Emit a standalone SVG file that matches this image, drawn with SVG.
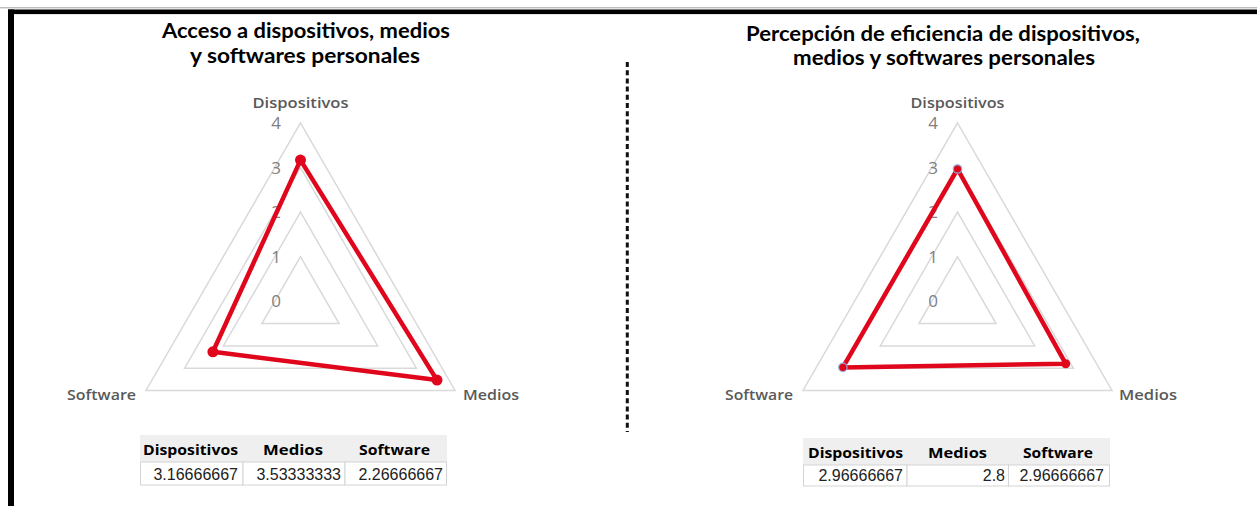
<svg xmlns="http://www.w3.org/2000/svg" xmlns:xlink="http://www.w3.org/1999/xlink" width="1257" height="506" viewBox="0 0 1257 506">
<style>
.title{font-family:Lato,"Open Sans","Liberation Sans",sans-serif;font-weight:700;font-size:20px;fill:#000;text-anchor:middle}
.axis{font-family:"Open Sans","Liberation Sans",sans-serif;font-weight:600;font-size:15px;fill:#595959}
.tick{font-family:"Open Sans","Liberation Sans",sans-serif;font-size:17px;fill:#808080;text-anchor:middle}
.grid{fill:none;stroke:#d9d9d9;stroke-width:1.5}
.series{fill:none;stroke:#e0061c;stroke-width:4.5;stroke-linejoin:round}
.dot{fill:#e0061c}
.dot2{fill:#e0061c;stroke:#8eaadb;stroke-width:1.2}
.th{font-family:"Open Sans","Liberation Sans",sans-serif;font-weight:700;font-size:15px;fill:#000}
.td{font-family:"Liberation Sans",Arial,sans-serif;font-size:16px;fill:#222;text-anchor:end}
.hdr{fill:#efefef}
.cell{fill:#fff;stroke:#d4d4d4;stroke-width:1}
</style>
<defs>
<g id="gridTri">
<polygon class="grid" points="0,-178.4 -154.5,89.2 154.5,89.2"/>
<polygon class="grid" points="0,-133.8 -115.9,66.9 115.9,66.9"/>
<polygon class="grid" points="0,-89.2 -77.2,44.6 77.2,44.6"/>
<polygon class="grid" points="0,-44.6 -38.6,22.3 38.6,22.3"/>
</g>
<g id="ticks">
<text class="tick" x="-24.5" y="-172.3">4</text>
<text class="tick" x="-24.5" y="-127.7">3</text>
<text class="tick" x="-24.5" y="-83.1">2</text>
<text class="tick" x="-24.5" y="-38.5">1</text>
<text class="tick" x="-24.5" y="6.1">0</text>
</g>
</defs>
<rect width="1257" height="506" fill="#fff"/>
<line x1="0" y1="7.8" x2="1257" y2="7.8" stroke="#a0a0a0" stroke-width="1"/>
<rect x="8" y="9.5" width="1249" height="4.6" fill="#000"/>
<rect x="8" y="9.5" width="6" height="496.5" fill="#000"/>

<g id="chart-left">
<text class="title" x="306" y="38" textLength="288" lengthAdjust="spacingAndGlyphs">Acceso a dispositivos, medios</text>
<text class="title" x="305" y="62.5" textLength="230" lengthAdjust="spacingAndGlyphs">y softwares personales</text>
<use xlink:href="#gridTri" x="300.5" y="301.3"/>
<use xlink:href="#ticks" x="300.5" y="301.3"/>
<text class="axis" x="300.5" y="108" text-anchor="middle" textLength="96" lengthAdjust="spacingAndGlyphs">Dispositivos</text>
<text class="axis" x="67" y="400" textLength="69" lengthAdjust="spacingAndGlyphs">Software</text>
<text class="axis" x="463" y="400" textLength="56" lengthAdjust="spacingAndGlyphs">Medios</text>
</g>

<g id="chart-right">
<text class="title" x="943" y="40.5" textLength="394" lengthAdjust="spacingAndGlyphs">Percepción de eficiencia de dispositivos,</text>
<text class="title" x="944" y="65" textLength="302" lengthAdjust="spacingAndGlyphs">medios  y softwares personales</text>
<use xlink:href="#gridTri" x="957.5" y="301.3"/>
<use xlink:href="#ticks" x="957.5" y="301.3"/>
<text class="axis" x="957.5" y="108" text-anchor="middle" textLength="94" lengthAdjust="spacingAndGlyphs">Dispositivos</text>
<text class="axis" x="725" y="400" textLength="68" lengthAdjust="spacingAndGlyphs">Software</text>
<text class="axis" x="1119" y="400" textLength="58" lengthAdjust="spacingAndGlyphs">Medios</text>
</g>

<g id="connectors">
<polygon class="series" points="300.5,160.1 437,380.1 212.9,351.8"/>
<polygon class="series" points="957.5,169 1065.7,363.7 842.9,367.4"/>
<line x1="627.3" y1="62" x2="627.3" y2="432" stroke="#111" stroke-width="3" stroke-dasharray="5 3.2"/>
</g>

<g id="markers-left">
<circle class="dot" cx="300.5" cy="160.1" r="5.5"/>
<circle class="dot" cx="437" cy="380.1" r="5.5"/>
<circle class="dot" cx="212.9" cy="351.8" r="5.5"/>
</g>
<g id="markers-right">
<circle class="dot2" cx="957.5" cy="169" r="4.2"/>
<circle class="dot" cx="1065.7" cy="363.7" r="4.5"/>
<circle class="dot2" cx="842.9" cy="367.4" r="4.2"/>
</g>

<g id="table-left">
<rect class="hdr" x="140" y="435" width="307" height="27"/>
<rect class="cell" x="140.5" y="462" width="102.5" height="23"/>
<rect class="cell" x="243" y="462" width="102" height="23"/>
<rect class="cell" x="345" y="462" width="101.5" height="23"/>
<text class="th" x="143" y="455" textLength="95" lengthAdjust="spacingAndGlyphs">Dispositivos</text>
<text class="th" x="263" y="455" textLength="60" lengthAdjust="spacingAndGlyphs">Medios</text>
<text class="th" x="359" y="455" textLength="71" lengthAdjust="spacingAndGlyphs">Software</text>
<text class="td" x="238" y="480">3.16666667</text>
<text class="td" x="341" y="480">3.53333333</text>
<text class="td" x="443" y="480">2.26666667</text>
</g>

<g id="table-right">
<rect class="hdr" x="803" y="438" width="307" height="27"/>
<rect class="cell" x="803.5" y="465" width="103.5" height="21"/>
<rect class="cell" x="907" y="465" width="101.5" height="21"/>
<rect class="cell" x="1008.5" y="465" width="101" height="21"/>
<text class="th" x="808" y="458" textLength="95" lengthAdjust="spacingAndGlyphs">Dispositivos</text>
<text class="th" x="928" y="458" textLength="59" lengthAdjust="spacingAndGlyphs">Medios</text>
<text class="th" x="1023" y="458" textLength="70" lengthAdjust="spacingAndGlyphs">Software</text>
<text class="td" x="903" y="481">2.96666667</text>
<text class="td" x="1005" y="481">2.8</text>
<text class="td" x="1104" y="481">2.96666667</text>
</g>
</svg>
